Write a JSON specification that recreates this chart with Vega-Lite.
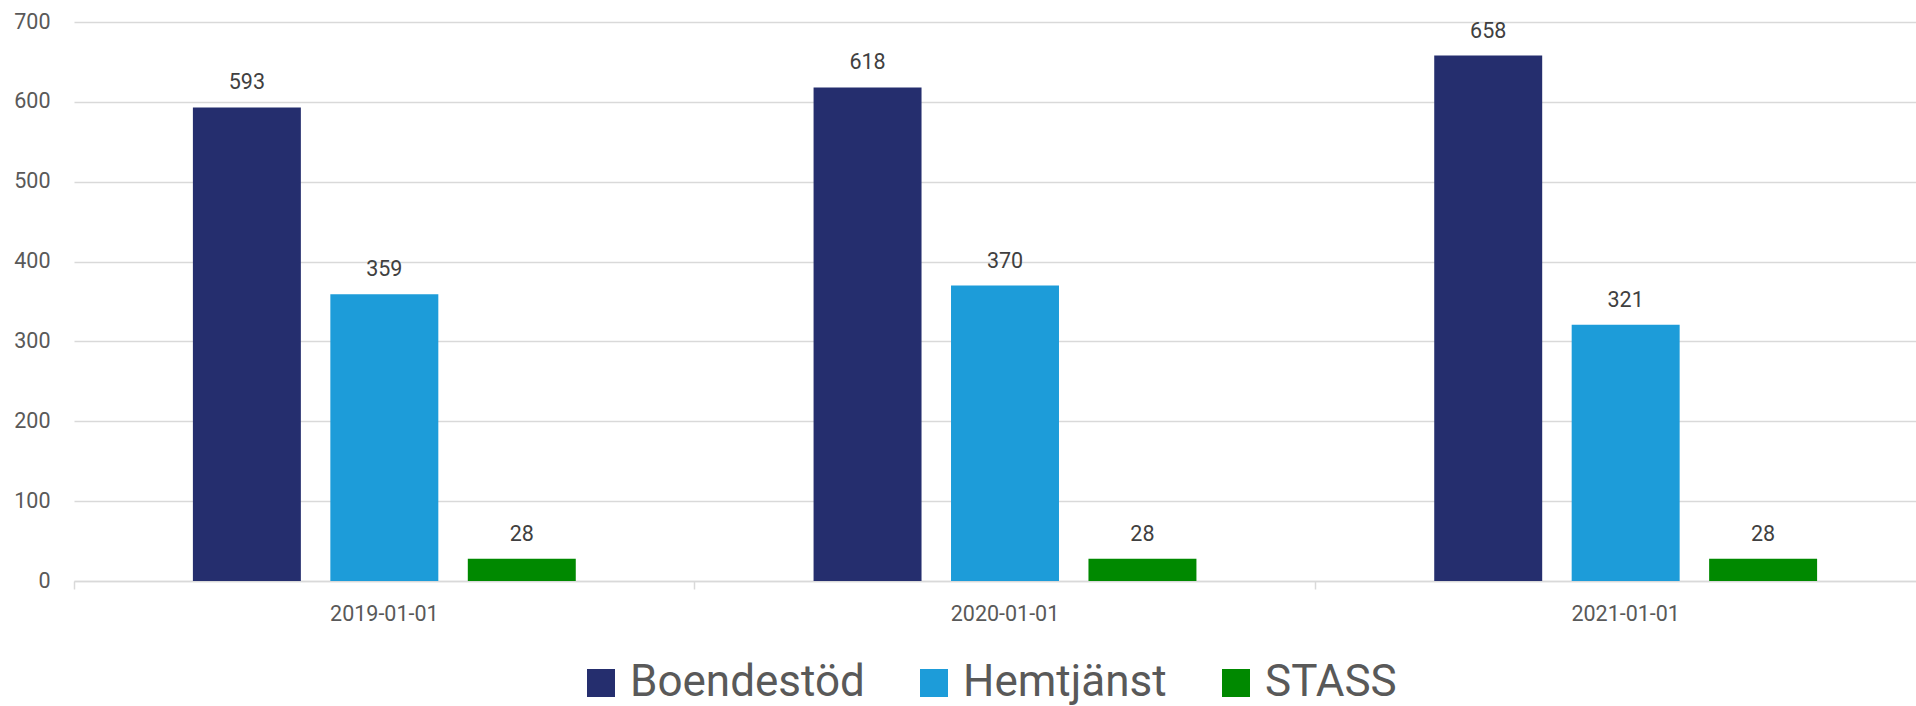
{
  "$schema": "https://vega.github.io/schema/vega-lite/v6.json",
  "width": 1842,
  "height": 559,
  "autosize": {"type": "none"},
  "padding": {"left": 74, "top": 22, "right": 0, "bottom": 125},
  "background": "white",
  "config": {"font": "Roboto", "view": {"stroke": null}},
  "data": {
    "values": [
      {"datum": "2019-01-01", "typ": "Boendestöd", "antal": 593},
      {"datum": "2019-01-01", "typ": "Hemtjänst", "antal": 359},
      {"datum": "2019-01-01", "typ": "STASS", "antal": 28},
      {"datum": "2020-01-01", "typ": "Boendestöd", "antal": 618},
      {"datum": "2020-01-01", "typ": "Hemtjänst", "antal": 370},
      {"datum": "2020-01-01", "typ": "STASS", "antal": 28},
      {"datum": "2021-01-01", "typ": "Boendestöd", "antal": 658},
      {"datum": "2021-01-01", "typ": "Hemtjänst", "antal": 321},
      {"datum": "2021-01-01", "typ": "STASS", "antal": 28}
    ]
  },
  "encoding": {
    "x": {
      "field": "datum",
      "type": "nominal",
      "scale": {"range": [0, 1862], "paddingInner": 0, "paddingOuter": 0},
      "axis": {
        "title": null,
        "labelAngle": 0,
        "bandPosition": 0,
        "domainColor": "#d9d9d9",
        "domainWidth": 1.5,
        "tickColor": "#d9d9d9",
        "tickWidth": 1.5,
        "tickSize": 8,
        "labelFontSize": 21.5,
        "labelColor": "#595959",
        "labelPadding": 14
      }
    },
    "xOffset": {
      "field": "typ",
      "type": "nominal",
      "sort": ["Boendestöd", "Hemtjänst", "STASS"],
      "scale": {"paddingInner": 0.2145, "paddingOuter": 0.865}
    },
    "y": {
      "field": "antal",
      "type": "quantitative",
      "scale": {"domain": [0, 700]},
      "axis": {
        "title": null,
        "values": [0, 100, 200, 300, 400, 500, 600, 700],
        "domain": false,
        "ticks": false,
        "grid": true,
        "gridColor": "#d9d9d9",
        "gridWidth": 1.5,
        "labelFontSize": 21.5,
        "labelColor": "#595959",
        "labelPadding": 24
      }
    }
  },
  "layer": [
    {
      "mark": {"type": "bar"},
      "encoding": {
        "color": {
          "field": "typ",
          "type": "nominal",
          "scale": {
            "domain": ["Boendestöd", "Hemtjänst", "STASS"],
            "range": ["#252e6e", "#1d9cd9", "#008900"]
          },
          "legend": {
            "orient": "none",
            "legendX": 505,
            "legendY": 639,
            "direction": "horizontal",
            "title": null,
            "symbolType": "square",
            "symbolSize": 784,
            "symbolStrokeWidth": 0,
            "symbolOpacity": 1,
            "labelFontSize": 44,
            "labelColor": "#595959",
            "labelOffset": 7,
            "columnPadding": 47,
            "padding": 0,
            "labelLimit": 400
          }
        }
      }
    },
    {
      "mark": {"type": "text", "dy": -18, "baseline": "alphabetic", "fontSize": 21.5, "color": "#404040"},
      "encoding": {"text": {"field": "antal", "type": "quantitative"}}
    }
  ]
}
